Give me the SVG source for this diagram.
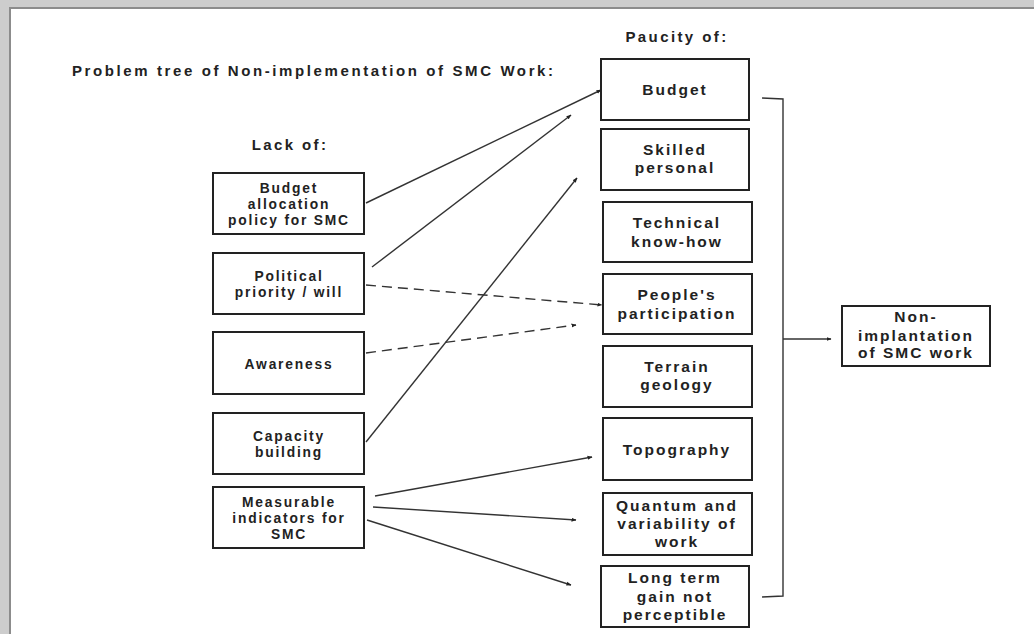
<svg xmlns="http://www.w3.org/2000/svg" width="1034" height="634" viewBox="0 0 1034 634">
<defs>
<marker id="ah" viewBox="0 0 10 10" refX="9" refY="5" markerWidth="5" markerHeight="5" orient="auto" markerUnits="userSpaceOnUse">
<path d="M0,1 L10,5 L0,9 z" fill="#222"/>
</marker>
<style>
.box{fill:#fff;stroke:#222;stroke-width:2}
.t{font-family:"Liberation Sans",Arial,sans-serif;font-weight:bold;font-size:13.8px;letter-spacing:1.8px;fill:#222;text-anchor:middle}
.tr{font-size:15.5px;letter-spacing:2px}
.h{font-family:"Liberation Sans",Arial,sans-serif;font-weight:bold;font-size:15px;letter-spacing:2.4px;fill:#222}
.c{fill:none;stroke:#333;stroke-width:1.4}
.d{stroke-dasharray:10 6}
</style>
</defs>
<rect x="0" y="0" width="1034" height="634" fill="#fff"/>
<rect x="0" y="0" width="1034" height="8" fill="#cdcdcd"/>
<rect x="0" y="0" width="10" height="634" fill="#cdcdcd"/>
<line x1="9" y1="8" x2="1034" y2="8" stroke="#8c8c8c" stroke-width="2"/>
<line x1="10" y1="8" x2="10" y2="634" stroke="#8c8c8c" stroke-width="2"/>

<text class="h" x="72" y="76" style="letter-spacing:2.6px">Problem tree of Non-implementation of SMC Work:</text>
<text class="h" x="290" y="150" text-anchor="middle">Lack of:</text>
<text class="h" x="677" y="42" text-anchor="middle">Paucity of:</text>

<g id="connectors">
<line class="c" x1="366" y1="203" x2="601" y2="90" marker-end="url(#ah)"/>
<line class="c" x1="372" y1="267" x2="571" y2="115" marker-end="url(#ah)"/>
<line class="c d" x1="366" y1="285" x2="602" y2="305" marker-end="url(#ah)"/>
<line class="c d" x1="366" y1="353" x2="576" y2="325" marker-end="url(#ah)"/>
<line class="c" x1="366" y1="442" x2="577" y2="178" marker-end="url(#ah)"/>
<line class="c" x1="375" y1="496" x2="592" y2="457" marker-end="url(#ah)"/>
<line class="c" x1="373" y1="507" x2="576" y2="520" marker-end="url(#ah)"/>
<line class="c" x1="367" y1="520" x2="571" y2="585" marker-end="url(#ah)"/>
<path class="c" d="M762,98 L783,99 L783,596 L762,597"/>
<line class="c" x1="783" y1="339" x2="831" y2="339" marker-end="url(#ah)"/>
</g>

<g id="lack-budget">
<rect class="box" x="213" y="173" width="151" height="61"/>
<text class="t" x="289" y="193">Budget</text>
<text class="t" x="289" y="209">allocation</text>
<text class="t" x="289" y="225">policy for SMC</text>
</g>
<g id="lack-political">
<rect class="box" x="213" y="253" width="151" height="61"/>
<text class="t" x="289" y="281">Political</text>
<text class="t" x="289" y="297">priority / will</text>
</g>
<g id="lack-awareness">
<rect class="box" x="213" y="332" width="151" height="62"/>
<text class="t" x="289" y="369">Awareness</text>
</g>
<g id="lack-capacity">
<rect class="box" x="213" y="413" width="151" height="61"/>
<text class="t" x="289" y="441">Capacity</text>
<text class="t" x="289" y="457">building</text>
</g>
<g id="lack-measurable">
<rect class="box" x="213" y="487" width="151" height="61"/>
<text class="t" x="289" y="507">Measurable</text>
<text class="t" x="289" y="523">indicators for</text>
<text class="t" x="289" y="539">SMC</text>
</g>

<g id="p-budget">
<rect class="box" x="601" y="59" width="148" height="61"/>
<text class="t tr" x="675" y="95">Budget</text>
</g>
<g id="p-skilled">
<rect class="box" x="601" y="129" width="148" height="61"/>
<text class="t tr" x="675" y="155">Skilled</text>
<text class="t tr" x="675" y="173">personal</text>
</g>
<g id="p-technical">
<rect class="box" x="603" y="202" width="149" height="60"/>
<text class="t tr" x="677" y="228">Technical</text>
<text class="t tr" x="677" y="247">know-how</text>
</g>
<g id="p-people">
<rect class="box" x="603" y="274" width="149" height="60"/>
<text class="t tr" x="677" y="300">People's</text>
<text class="t tr" x="677" y="319">participation</text>
</g>
<g id="p-terrain">
<rect class="box" x="603" y="346" width="149" height="61"/>
<text class="t tr" x="677" y="372">Terrain</text>
<text class="t tr" x="677" y="390">geology</text>
</g>
<g id="p-topography">
<rect class="box" x="603" y="418" width="149" height="62"/>
<text class="t tr" x="677" y="455">Topography</text>
</g>
<g id="p-quantum">
<rect class="box" x="603" y="493" width="149" height="62"/>
<text class="t tr" x="677" y="511">Quantum and</text>
<text class="t tr" x="677" y="529">variability of</text>
<text class="t tr" x="677" y="547">work</text>
</g>
<g id="p-longterm">
<rect class="box" x="601" y="566" width="148" height="61"/>
<text class="t tr" x="675" y="583">Long term</text>
<text class="t tr" x="675" y="602">gain not</text>
<text class="t tr" x="675" y="620">perceptible</text>
</g>

<g id="result">
<rect class="box" x="842" y="306" width="148" height="60"/>
<text class="t tr" x="916" y="322">Non-</text>
<text class="t tr" x="916" y="341">implantation</text>
<text class="t tr" x="916" y="358">of SMC work</text>
</g>
</svg>
